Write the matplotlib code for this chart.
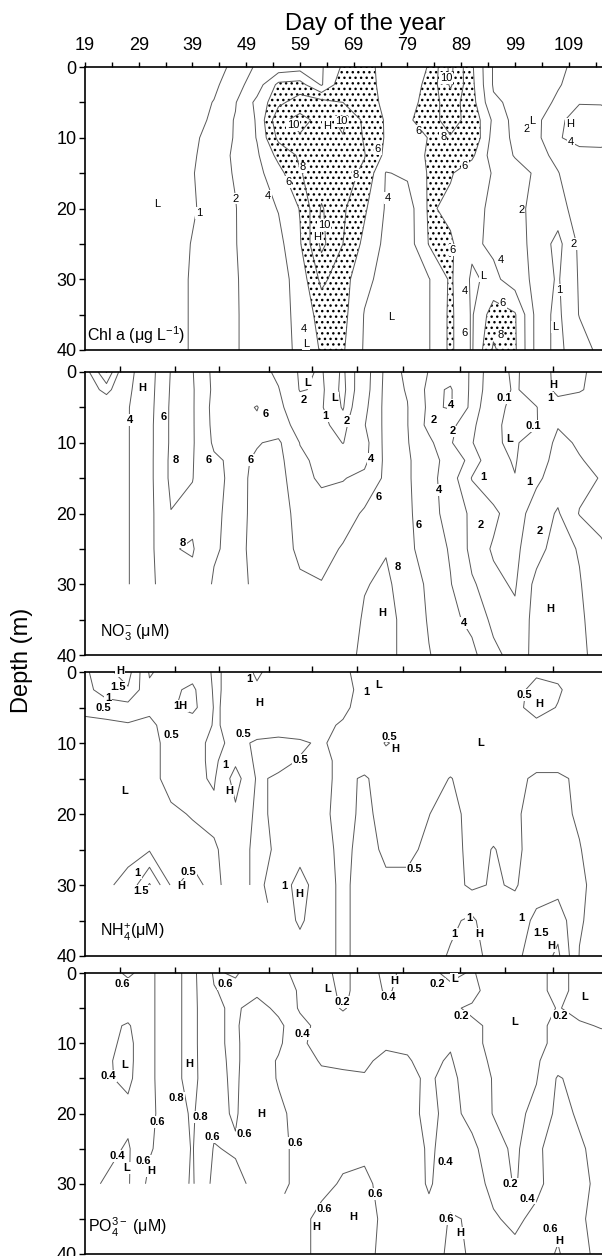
import numpy as np
import matplotlib
matplotlib.use("Agg")
import matplotlib.pyplot as plt
from matplotlib.ticker import FixedLocator, NullFormatter

plt.rcParams['font.family'] = ['Liberation Sans', 'DejaVu Sans']
plt.rcParams['mathtext.fontset'] = 'custom'
plt.rcParams['mathtext.rm'] = 'Liberation Sans'
plt.rcParams['mathtext.it'] = 'Liberation Sans:italic'
plt.rcParams['mathtext.bf'] = 'Liberation Sans:bold'
plt.rcParams['hatch.color'] = 'black'
plt.rcParams['hatch.linewidth'] = 1.0

nan = np.nan

# ---------------- data ----------------
days = [19, 23, 27, 31, 35, 39, 43, 47, 51, 55, 59, 63, 67, 71, 75, 79, 83, 87, 91, 95, 99, 103, 107, 111, 115, 119]
depths = [0, 2.5, 5, 7.5, 10, 12.5, 15, 20, 25, 30, 35, 40]
sampling_days = [25.5, 35.7, 43.9, 53.2, 61.2, 69.6, 78.2, 88.8, 97.2, 106.1]

chl = [
    [0.6, 0.6, 0.6, 0.6, 0.7, 0.8, 0.85, 1.1, 2.2, 2.8, 3.2, 3.8, 6.3, 6.8, 5.2, 5.0, 6.1, 10.5, 6.3, 1.8, 1.6, 1.5, 1.7, 2.4, 2.8, 3.0],
    [0.6, 0.6, 0.6, 0.6, 0.7, 0.8, 0.9, 1.3, 3.0, 6.5, 6.8, 3.8, 7.5, 7.0, 5.2, 5.0, 6.5, 10.3, 6.5, 1.8, 1.6, 1.5, 1.9, 2.5, 3.0, 3.2],
    [0.6, 0.6, 0.6, 0.6, 0.7, 0.8, 1.02, 1.9, 4.5, 7.5, 9.0, 8.8, 8.0, 7.0, 5.5, 5.0, 7.0, 9.0, 6.8, 2.3, 1.6, 1.5, 2.2, 3.9, 3.9, 3.5],
    [0.6, 0.6, 0.6, 0.6, 0.7, 0.8, 1.1, 2.1, 4.2, 9.5, 10.6, 9.4, 10.4, 7.5, 5.8, 5.5, 7.5, 8.5, 7.5, 3.6, 1.3, 1.5, 3.6, 4.8, 4.6, 4.2],
    [0.6, 0.6, 0.55, 0.55, 0.65, 0.85, 1.3, 2.1, 4.1, 8.5, 9.8, 9.4, 9.9, 7.8, 5.8, 5.4, 6.05, 7.9, 7.8, 3.2, 1.6, 1.5, 3.8, 4.8, 4.6, 4.2],
    [0.6, 0.55, 0.5, 0.5, 0.6, 0.9, 1.4, 2.2, 3.7, 6.6, 8.3, 9.0, 8.8, 8.1, 5.5, 5.2, 6.2, 7.5, 6.4, 3.0, 1.9, 1.6, 2.3, 3.2, 3.5, 3.3],
    [0.6, 0.5, 0.45, 0.45, 0.6, 0.95, 1.5, 2.1, 3.4, 5.3, 7.9, 8.8, 8.8, 7.6, 3.9, 4.3, 6.2, 6.2, 4.8, 3.9, 2.6, 1.8, 1.95, 2.8, 3.2, 3.0],
    [0.55, 0.45, 0.4, 0.4, 0.55, 0.9, 1.4, 1.95, 3.0, 4.1, 6.1, 10.2, 8.3, 6.3, 3.8, 3.0, 6.3, 5.5, 4.6, 3.6, 2.4, 1.6, 1.5, 2.6, 3.0, 2.8],
    [0.55, 0.45, 0.4, 0.4, 0.55, 1.05, 1.5, 1.95, 2.8, 3.4, 5.8, 10.5, 8.0, 5.5, 3.5, 3.0, 6.1, 6.3, 4.4, 3.6, 2.5, 1.6, 0.7, 2.2, 2.8, 2.7],
    [0.55, 0.45, 0.45, 0.45, 0.6, 1.1, 1.5, 1.9, 2.6, 3.2, 4.8, 8.5, 6.8, 4.5, 3.3, 3.0, 3.9, 6.3, 3.7, 4.5, 3.0, 1.5, 0.9, 2.1, 2.6, 2.5],
    [0.55, 0.5, 0.5, 0.5, 0.6, 1.1, 1.5, 1.9, 2.5, 3.2, 4.6, 6.8, 6.6, 3.9, 3.2, 3.0, 3.9, 6.4, 3.8, 7.0, 6.2, 1.4, 0.8, 2.05, 2.4, 2.4],
    [0.55, 0.5, 0.5, 0.5, 0.6, 1.1, 1.5, 1.9, 2.5, 3.1, 4.5, 6.2, 6.2, 3.8, 3.0, 3.0, 3.9, 6.4, 3.8, 8.3, 6.3, 1.4, 0.8, 1.5, 2.3, 2.4],
]

no3 = [
    [2.5, 0.05, 3.5, 5.2, 8.1, 8.1, 5.5, 5.3, 4.8, 3.6, 1.8, 2.1, 0.8, 3.0, 6.5, 5.8, 3.9, 3.2, 1.8, 0.3, 0.02, 0.4, 1.3, 1.1, 0.8, 0.7],
    [3.0, 1.5, 3.7, 5.3, 8.2, 8.2, 5.6, 5.4, 5.0, 4.1, 1.9, 2.2, 0.7, 3.1, 6.6, 5.9, 3.5, 4.2, 1.6, 0.4, 0.03, 0.4, 1.25, 1.05, 0.8, 0.7],
    [3.4, 3.3, 3.9, 5.4, 8.3, 8.2, 5.4, 5.3, 6.1, 4.4, 2.8, 2.1, 0.9, 3.5, 6.6, 6.05, 3.6, 4.2, 1.5, 0.2, 0.02, 0.08, 0.6, 0.7, 0.7, 0.7],
    [3.5, 3.5, 3.9, 5.5, 8.3, 8.2, 5.5, 5.3, 5.6, 5.0, 3.2, 2.3, 1.5, 3.9, 6.5, 6.05, 3.4, 2.3, 1.2, 0.15, 0.02, 0.05, 0.95, 0.5, 0.5, 0.5],
    [3.5, 3.5, 3.9, 5.5, 8.3, 8.2, 5.7, 5.4, 5.9, 6.3, 3.95, 3.0, 1.95, 3.3, 6.6, 6.1, 4.5, 2.1, 1.05, 0.15, 0.03, 0.4, 1.2, 0.9, 0.7, 0.6],
    [3.5, 3.5, 3.9, 5.5, 8.4, 8.1, 6.3, 5.6, 6.2, 6.6, 4.3, 3.6, 3.0, 3.5, 6.5, 6.2, 5.0, 3.0, 1.5, 0.3, 0.05, 0.6, 1.3, 1.05, 0.8, 0.6],
    [3.5, 3.5, 3.9, 5.5, 8.4, 8.05, 6.4, 5.6, 6.3, 6.8, 4.6, 3.7, 3.9, 4.5, 6.4, 6.2, 5.0, 2.5, 0.95, 0.4, 0.12, 0.8, 1.5, 1.3, 0.95, 0.8],
    [3.5, 3.5, 3.9, 5.5, 7.95, 7.6, 6.3, 5.5, 6.4, 6.8, 5.4, 4.8, 5.0, 6.3, 7.0, 6.3, 5.0, 3.0, 1.7, 1.2, 0.5, 1.5, 2.1, 0.95, 0.8, 0.7],
    [3.5, 3.5, 3.9, 5.5, 7.9, 8.15, 6.2, 5.5, 6.5, 6.9, 5.6, 5.2, 6.2, 7.0, 7.9, 6.4, 5.2, 3.8, 1.5, 0.9, 0.8, 1.6, 2.5, 1.9, 1.1, 0.8],
    [3.5, 3.5, 3.9, 5.5, 7.3, 7.5, 5.8, 5.4, 6.4, 7.0, 6.3, 6.1, 6.5, 7.9, 8.3, 7.2, 5.6, 4.1, 2.2, 1.2, 0.9, 2.3, 2.6, 2.1, 1.05, 0.9],
    [nan, nan, nan, nan, nan, nan, nan, nan, nan, nan, nan, nan, 7.0, 8.2, 8.5, 7.5, 5.8, 4.5, 3.5, 1.5, 1.2, 2.4, 3.0, 2.3, 1.1, 0.9],
    [nan, nan, nan, nan, nan, nan, nan, nan, nan, nan, nan, nan, 7.5, 8.3, 8.4, 7.6, 6.1, 5.0, 4.5, 2.5, 1.3, 2.4, 2.8, 2.3, 1.5, 1.05],
]

nh4 = [
    [0.9, 1.4, 1.7, 0.45, 0.7, 0.8, 0.45, 0.6, 1.1, 0.7, 0.75, 0.7, 0.6, 0.3, 0.45, 0.4, 0.4, 0.35, 0.3, 0.3, 0.35, 0.45, 0.4, 0.3, 0.3, 0.3],
    [0.8, 1.3, 1.45, 0.6, 0.9, 1.1, 0.45, 0.6, 0.9, 0.8, 0.8, 0.75, 0.65, 0.35, 0.4, 0.4, 0.35, 0.3, 0.3, 0.3, 0.4, 0.6, 0.55, 0.3, 0.3, 0.3],
    [0.6, 0.7, 0.8, 0.55, 0.95, 1.15, 0.48, 0.55, 0.8, 0.9, 0.85, 0.8, 0.6, 0.3, 0.35, 0.35, 0.3, 0.3, 0.3, 0.3, 0.4, 0.65, 0.48, 0.3, 0.3, 0.3],
    [0.4, 0.4, 0.45, 0.45, 0.6, 0.7, 0.48, 0.55, 0.7, 0.7, 0.7, 0.6, 0.45, 0.3, 0.3, 0.3, 0.3, 0.3, 0.3, 0.3, 0.35, 0.4, 0.35, 0.3, 0.3, 0.3],
    [0.35, 0.35, 0.35, 0.4, 0.6, 0.65, 0.4, 0.6, 0.45, 0.4, 0.45, 0.55, 0.35, 0.3, 0.52, 0.4, 0.3, 0.3, 0.25, 0.25, 0.3, 0.3, 0.3, 0.3, 0.3, 0.3],
    [0.35, 0.35, 0.35, 0.4, 0.6, 0.65, 0.4, 0.9, 0.4, 0.4, 0.52, 0.6, 0.4, 0.3, 0.4, 0.35, 0.3, 0.3, 0.25, 0.25, 0.3, 0.3, 0.3, 0.3, 0.3, 0.3],
    [0.35, 0.3, 0.3, 0.4, 0.6, 0.6, 0.45, 1.2, 0.45, 0.55, 0.6, 0.6, 0.4, 0.55, 0.3, 0.3, 0.3, 0.52, 0.3, 0.25, 0.35, 0.6, 0.6, 0.4, 0.3, 0.3],
    [0.35, 0.3, 0.3, 0.35, 0.45, 0.52, 0.6, 0.9, 0.4, 0.6, 0.7, 0.6, 0.35, 0.6, 0.35, 0.35, 0.49, 0.7, 0.3, 0.3, 0.4, 0.75, 0.6, 0.45, 0.3, 0.3],
    [0.35, 0.35, 0.4, 0.45, 0.35, 0.4, 0.45, 0.7, 0.4, 0.55, 0.8, 0.7, 0.35, 0.7, 0.4, 0.4, 0.6, 0.7, 0.35, 0.52, 0.35, 0.8, 0.8, 0.52, 0.3, 0.3],
    [0.4, 0.45, 0.6, 1.55, 0.45, 0.6, 0.4, 0.7, 0.4, 0.7, 1.2, 0.7, 0.4, 0.7, 0.6, 0.6, 0.7, 0.7, 0.4, 0.55, 0.45, 0.8, 0.8, 0.6, 0.3, 0.3],
    [nan, nan, nan, nan, nan, nan, nan, nan, nan, 0.6, 1.1, 0.6, 0.45, 0.6, 0.7, 0.7, 0.8, 0.9, 1.1, 0.6, 0.75, 1.1, 1.3, 0.55, 0.3, 0.3],
    [nan, nan, nan, nan, nan, nan, nan, nan, nan, 0.55, 0.7, 0.6, 0.45, 0.6, 0.7, 0.7, 0.8, 1.05, 1.3, 0.7, 0.9, 1.2, 1.6, 0.48, 0.3, 0.3],
]

po4 = [
    [0.55, 0.55, 0.62, 0.55, 0.75, 0.85, 0.58, 0.62, 0.5, 0.45, 0.35, 0.25, 0.15, 0.3, 0.45, 0.35, 0.25, 0.15, 0.22, 0.1, 0.1, 0.15, 0.25, 0.15, 0.1, 0.1],
    [0.5, 0.5, 0.55, 0.55, 0.75, 0.85, 0.61, 0.55, 0.55, 0.5, 0.38, 0.3, 0.15, 0.3, 0.42, 0.35, 0.3, 0.25, 0.25, 0.12, 0.1, 0.15, 0.25, 0.15, 0.1, 0.1],
    [0.5, 0.48, 0.5, 0.55, 0.75, 0.85, 0.63, 0.57, 0.68, 0.55, 0.38, 0.3, 0.18, 0.3, 0.35, 0.35, 0.3, 0.22, 0.18, 0.12, 0.1, 0.12, 0.21, 0.15, 0.1, 0.1],
    [0.5, 0.45, 0.38, 0.55, 0.75, 0.85, 0.63, 0.57, 0.75, 0.65, 0.45, 0.35, 0.3, 0.3, 0.32, 0.35, 0.35, 0.3, 0.22, 0.18, 0.1, 0.15, 0.25, 0.22, 0.19, 0.18],
    [0.5, 0.45, 0.35, 0.55, 0.75, 0.85, 0.63, 0.57, 0.72, 0.64, 0.42, 0.36, 0.35, 0.35, 0.38, 0.38, 0.32, 0.38, 0.22, 0.18, 0.12, 0.15, 0.25, 0.28, 0.25, 0.25],
    [0.5, 0.42, 0.35, 0.55, 0.75, 0.85, 0.64, 0.57, 0.72, 0.58, 0.5, 0.38, 0.38, 0.38, 0.43, 0.41, 0.36, 0.42, 0.25, 0.18, 0.15, 0.18, 0.3, 0.32, 0.3, 0.3],
    [0.5, 0.42, 0.36, 0.55, 0.75, 0.85, 0.65, 0.57, 0.75, 0.58, 0.5, 0.45, 0.42, 0.41, 0.45, 0.43, 0.38, 0.45, 0.3, 0.19, 0.15, 0.19, 0.42, 0.33, 0.3, 0.3],
    [0.5, 0.5, 0.45, 0.55, 0.72, 0.82, 0.65, 0.58, 0.75, 0.65, 0.52, 0.45, 0.45, 0.45, 0.48, 0.45, 0.36, 0.45, 0.35, 0.19, 0.15, 0.25, 0.45, 0.38, 0.3, 0.3],
    [0.45, 0.45, 0.38, 0.58, 0.7, 0.81, 0.59, 0.62, 0.7, 0.62, 0.58, 0.5, 0.55, 0.55, 0.5, 0.48, 0.38, 0.45, 0.44, 0.3, 0.15, 0.38, 0.45, 0.42, 0.35, 0.3],
    [0.45, 0.38, 0.38, 0.65, 0.7, 0.82, 0.55, 0.55, 0.65, 0.62, 0.58, 0.55, 0.62, 0.65, 0.52, 0.5, 0.38, 0.5, 0.48, 0.35, 0.18, 0.35, 0.5, 0.45, 0.35, 0.3],
    [nan, nan, nan, nan, nan, nan, nan, nan, nan, nan, 0.55, 0.65, 0.62, 0.68, 0.55, 0.5, 0.45, 0.62, 0.58, 0.42, 0.36, 0.45, 0.55, 0.42, 0.35, 0.3],
    [nan, nan, nan, nan, nan, nan, nan, nan, nan, nan, 0.55, 0.65, 0.62, 0.65, 0.55, 0.5, 0.48, 0.65, 0.58, 0.45, 0.45, 0.5, 0.62, 0.45, 0.35, 0.3],
]

chl_levels = [1, 2, 4, 6, 8, 10]
no3_levels = [0.1, 1, 2, 4, 6, 8]
nh4_levels = [0.5, 1, 1.5]
po4_levels = [0.2, 0.4, 0.6, 0.8]

day_ticks = [19, 29, 39, 49, 59, 69, 79, 89, 99, 109]
day_minor = [24, 34, 44, 54, 64, 74, 84, 94, 104, 114]
depth_ticks = [0, 10, 20, 30, 40]

# contour labels: (text, day, depth)
chl_labels = [("L", 32.4, 19.3), ("1", 40.3, 20.6), ("2", 47.1, 18.6), ("4", 53.1, 18.2),
              ("6", 56.8, 16.2), ("8", 59.5, 14.2), ("10", 57.7, 8.2), ("H", 64.1, 8.4),
              ("10", 66.6, 7.7), ("8", 69.4, 15.3), ("10", 63.5, 22.3), ("H", 62.2, 24.0),
              ("4", 59.7, 37.0), ("L", 60.2, 39.1), ("6", 73.5, 11.6), ("4", 75.3, 18.5),
              ("L", 75.9, 35.3), ("10", 86.2, 1.6), ("6", 81.0, 9.0), ("8", 85.7, 9.9),
              ("6", 89.7, 14.0), ("6", 87.4, 25.9), ("6", 89.7, 37.6), ("4", 89.7, 31.7),
              ("L", 93.0, 29.6), ("4", 96.4, 27.3), ("6", 96.7, 33.4), ("8", 96.3, 37.9),
              ("2", 100.2, 20.2), ("2", 101.1, 8.7), ("L", 102.3, 7.7), ("H", 109.2, 8.0),
              ("4", 109.4, 10.6), ("2", 109.9, 25.0), ("1", 107.3, 31.5), ("L", 106.4, 36.7)]

no3_labels = [("H", 29.6, 2.3), ("4", 27.3, 6.8), ("6", 33.6, 6.3), ("8", 35.8, 12.4),
              ("6", 42.1, 12.4), ("6", 49.8, 12.4), ("6", 52.7, 5.9), ("8", 37.2, 24.1),
              ("L", 60.4, 1.5), ("2", 59.7, 4.0), ("L", 65.5, 3.7), ("1", 63.8, 6.2),
              ("2", 67.7, 6.9), ("4", 72.2, 12.3), ("6", 73.7, 17.6), ("6", 81.0, 21.6),
              ("8", 77.2, 27.5), ("H", 74.4, 34.1), ("4", 87.1, 4.7), ("2", 83.9, 6.8),
              ("2", 87.4, 8.4), ("4", 84.8, 16.7), ("1", 93.2, 14.8), ("2", 92.6, 21.6),
              ("4", 89.6, 35.5), ("0.1", 97.0, 3.7), ("0.1", 102.5, 7.6), ("L", 98.0, 9.4),
              ("1", 101.6, 15.6), ("2", 103.7, 22.5), ("H", 105.6, 33.5), ("H", 106.2, 1.9),
              ("1", 105.6, 3.7)]

nh4_labels = [("H", 25.5, -0.1), ("1.5", 25.2, 2.1), ("1", 23.3, 3.7), ("0.5", 22.4, 5.1),
              ("1H", 36.8, 4.8), ("0.5", 35.1, 8.9), ("0.5", 48.4, 8.7), ("1", 49.5, 1.0),
              ("H", 51.5, 4.4), ("L", 26.3, 16.8), ("1", 45.2, 13.1), ("H", 45.9, 16.8),
              ("0.5", 59.1, 12.4), ("1", 28.8, 28.3), ("1.5", 29.5, 30.8), ("0.5", 38.3, 28.2),
              ("H", 36.9, 30.2), ("1", 56.1, 30.2), ("H", 58.9, 31.2), ("1", 71.4, 2.8),
              ("L", 73.7, 1.8), ("0.5", 75.6, 9.1), ("H", 76.7, 10.8), ("L", 92.6, 10.0),
              ("0.5", 100.7, 3.2), ("H", 103.6, 4.5), ("0.5", 80.3, 27.7), ("1", 90.5, 34.6),
              ("1", 87.7, 36.9), ("H", 92.4, 36.9), ("1", 100.2, 34.6), ("1.5", 103.9, 36.7),
              ("H", 105.8, 38.6)]

po4_labels = [("0.6", 26.0, 1.5), ("0.6", 45.1, 1.6), ("L", 64.1, 2.3), ("0.2", 66.8, 4.1),
              ("0.4", 59.5, 8.7), ("L", 26.3, 13.1), ("0.4", 23.3, 14.7), ("H", 38.4, 13.0),
              ("0.8", 36.0, 17.8), ("0.6", 32.4, 21.2), ("0.8", 40.5, 20.5), ("0.6", 42.6, 23.3),
              ("H", 51.8, 20.1), ("0.6", 48.7, 22.9), ("0.6", 58.2, 24.2), ("0.4", 25.0, 26.0),
              ("L", 26.8, 27.8), ("0.6", 29.8, 26.7), ("H", 31.3, 28.2), ("0.6", 63.6, 33.6),
              ("H", 62.1, 36.2), ("H", 68.9, 34.8), ("H", 76.5, 1.1), ("0.4", 75.5, 3.4),
              ("0.2", 84.5, 1.5), ("L", 87.7, 0.9), ("0.2", 89.0, 6.1), ("L", 98.9, 7.0),
              ("L", 112.0, 3.4), ("0.2", 107.4, 6.1), ("0.4", 86.0, 26.9), ("0.2", 98.2, 30.0),
              ("0.4", 101.3, 32.1), ("0.6", 73.0, 31.5), ("0.6", 86.3, 35.0), ("H", 88.8, 37.0),
              ("0.6", 105.6, 36.5), ("H", 107.3, 38.2)]

# ---------------- figure ----------------
W, H = 602, 1256
fig = plt.figure(figsize=(W / 100, H / 100), dpi=100)
panel_px = [(67, 350), (372, 655), (672, 956), (973, 1254)]
left_px = 85
axes = []
for top, bot in panel_px:
    ax = fig.add_axes([left_px / W, 1 - bot / H, (W - left_px) / W, (bot - top) / H])
    axes.append(ax)

line_kw = dict(colors='0.35', linewidths=0.7)
panels = [
    (chl, chl_levels, chl_labels, 'Chl a (μg L$^{-1}$)', (19.4, 37.9), 'normal'),
    (no3, no3_levels, no3_labels, 'NO$_3^{-}$ (μM)', (21.7, 36.9), 'bold'),
    (nh4, nh4_levels, nh4_labels, 'NH$_4^{+}$(μM)', (21.7, 36.7), 'bold'),
    (po4, po4_levels, po4_labels, 'PO$_4^{3-}$ (μM)', (19.6, 36.2), 'bold'),
]

for i, (ax, (grid, levels, labels, title, tpos, weight)) in enumerate(zip(axes, panels)):
    Z = np.ma.masked_invalid(np.array(grid, dtype=float))
    if i == 0:
        ax.contourf(days, depths, Z, levels=[6, 1000], colors='none', hatches=['...'])
    ax.contour(days, depths, Z, levels=levels, **line_kw)
    for s, d, z in labels:
        ax.text(d, z, s, ha='center', va='center', fontsize=8, fontweight=weight,
                clip_on=False, zorder=6,
                bbox=dict(boxstyle='square,pad=0.08', fc='white', ec='none'))
    ax.text(tpos[0], tpos[1], title, ha='left', va='center', fontsize=11.5, zorder=6)

    ax.set_xlim(19, 115.2)
    ax.set_ylim(40, 0)
    ax.spines['right'].set_visible(False)
    for sp in ['left', 'top', 'bottom']:
        ax.spines[sp].set_linewidth(1.2)
    ax.yaxis.set_major_locator(FixedLocator(depth_ticks))
    ax.yaxis.set_minor_locator(FixedLocator([5, 15, 25, 35]))
    ax.set_yticklabels([str(t) for t in depth_ticks])
    ax.tick_params(axis='y', which='both', direction='out', length=4, width=1.0,
                   labelsize=13, pad=2)
    ax.xaxis.tick_top()
    if i == 0:
        ax.xaxis.set_major_locator(FixedLocator(day_ticks))
        ax.xaxis.set_minor_locator(FixedLocator(day_minor))
        ax.set_xticklabels([str(t) for t in day_ticks])
        ax.tick_params(axis='x', which='both', direction='out', length=3.5, width=1.0,
                       labelsize=13, pad=6)
    else:
        ax.xaxis.set_major_locator(FixedLocator(sampling_days))
        ax.xaxis.set_major_formatter(NullFormatter())
        ax.tick_params(axis='x', which='both', direction='out', length=4, width=1.0)

fig.text(365 / W, 1 - 24 / H, 'Day of the year', ha='center', va='center', fontsize=17)
fig.text(22 / W, 1 - 660 / H, 'Depth (m)', ha='center', va='center', fontsize=17, rotation=90)

fig.savefig('out.png', dpi=100)
